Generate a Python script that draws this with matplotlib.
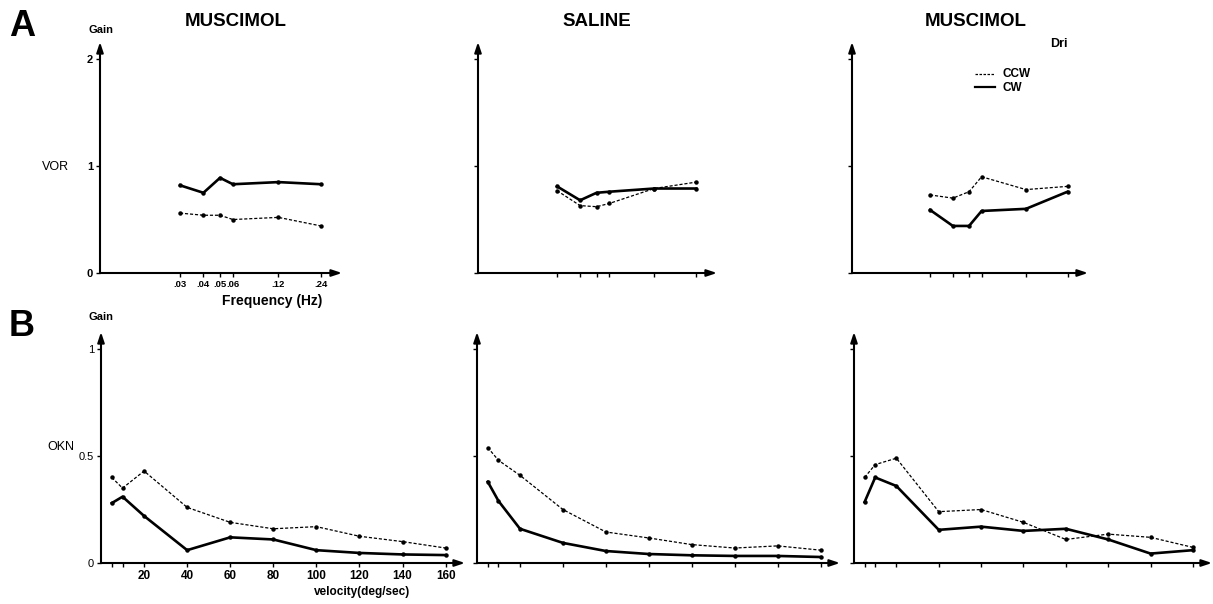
import matplotlib.pyplot as plt
import numpy as np

plt.rcParams['font.family'] = ['Liberation Sans', 'DejaVu Sans']

# --- data ---
freq = [0.03, 0.04, 0.05, 0.06, 0.12, 0.24]
freq_labels = ['.03', '.04', '.05', '.06', '.12', '.24']

vor_mus1_ccw = [0.56, 0.54, 0.54, 0.50, 0.52, 0.44]
vor_mus1_cw = [0.82, 0.75, 0.89, 0.83, 0.85, 0.83]
vor_sal_ccw = [0.77, 0.63, 0.62, 0.65, 0.79, 0.85]
vor_sal_cw = [0.81, 0.68, 0.75, 0.76, 0.79, 0.79]
vor_mus2_ccw = [0.73, 0.70, 0.76, 0.90, 0.78, 0.81]
vor_mus2_cw = [0.59, 0.44, 0.44, 0.58, 0.60, 0.76]

vel = [5, 10, 20, 40, 60, 80, 100, 120, 140, 160]
vel_labels = ['', '', '20', '40', '60', '80', '100', '120', '140', '160']

okn_mus1_ccw = [0.40, 0.35, 0.43, 0.26, 0.19, 0.16, 0.17, 0.125, 0.10, 0.07]
okn_mus1_cw = [0.28, 0.31, 0.22, 0.06, 0.12, 0.11, 0.06, 0.047, 0.04, 0.037]
okn_sal_ccw = [0.54, 0.48, 0.41, 0.25, 0.145, 0.117, 0.086, 0.07, 0.08, 0.06]
okn_sal_cw = [0.38, 0.29, 0.16, 0.094, 0.056, 0.042, 0.036, 0.033, 0.033, 0.028]
okn_mus2_ccw = [0.40, 0.46, 0.49, 0.24, 0.25, 0.19, 0.11, 0.135, 0.12, 0.073]
okn_mus2_cw = [0.285, 0.40, 0.36, 0.155, 0.17, 0.15, 0.16, 0.11, 0.044, 0.06]

titles = ['MUSCIMOL', 'SALINE', 'MUSCIMOL']

W, H = 1213, 604
fig = plt.figure(figsize=(W / 100, H / 100), dpi=100)


def px_axes(left, right, y0, top):
    # axes box given in pixel coordinates of the image
    return fig.add_axes([left / W, (H - y0) / H, (right - left) / W, (y0 - top) / H])


def style(ax):
    for s in ax.spines.values():
        s.set_visible(False)
    arrow = dict(arrowstyle='-|>,head_length=0.6,head_width=0.2', color='black', lw=1.5,
                 shrinkA=0, shrinkB=0)
    ax.annotate('', xy=(1, 0), xytext=(0, 0), xycoords='axes fraction', arrowprops=arrow)
    ax.annotate('', xy=(0, 1), xytext=(0, 0), xycoords='axes fraction', arrowprops=arrow)
    ax.tick_params(direction='out', length=3, width=1, pad=2)
    ax.patch.set_alpha(0)


def draw(ax, x, ccw, cw):
    ax.plot(x, ccw, color='black', lw=0.9, ls=(0, (2.5, 1.5)), marker='o', ms=2.2,
            clip_on=False)
    ax.plot(x, cw, color='black', lw=1.9, ls='-', marker='o', ms=2.2, clip_on=False)


# the hand-drawn frequency axis is close to a log scale with a small offset
def fwd(x):
    return np.log10(np.clip(np.asarray(x, dtype=float) - 0.01, 1e-6, None))


def inv(y):
    return 10 ** np.asarray(y, dtype=float) + 0.01


# --- row A: VOR ---
top_boxes = [(100, 342), (478, 717), (852, 1088)]
top_data = [(vor_mus1_ccw, vor_mus1_cw), (vor_sal_ccw, vor_sal_cw), (vor_mus2_ccw, vor_mus2_cw)]
title_x = [236, 597, 976]
for i, ((l, r), (ccw, cw)) in enumerate(zip(top_boxes, top_data)):
    ax = px_axes(l, r, 273, 42)
    style(ax)
    ax.set_xscale('function', functions=(fwd, inv))
    ax.set_xlim(0.015, 0.341)
    ax.set_ylim(0, 2.16)
    ax.set_xticks(freq)
    ax.xaxis.set_minor_locator(plt.NullLocator())
    ax.set_yticks([0, 1, 2])
    if i == 0:
        ax.set_xticklabels(freq_labels, fontsize=6.8, fontweight='bold')
        ax.set_yticklabels(['0', '1', '2'], fontsize=8, fontweight='bold')
    else:
        ax.set_xticklabels([])
        ax.set_yticklabels([])
    draw(ax, freq, ccw, cw)
    fig.text(title_x[i] / W, 1 - 21 / H, titles[i], ha='center', va='center',
             fontsize=13.5, fontweight='bold')

# legend drawn as in the original, inside the third panel
fig.text(1050 / W, 1 - 44 / H, 'Dri', ha='left', va='center', fontsize=9, fontweight='bold')
fig.add_artist(plt.Line2D([975 / W, 995 / W], [1 - 74 / H, 1 - 74 / H], color='black',
                          lw=0.9, ls=(0, (2, 1.2))))
fig.add_artist(plt.Line2D([975 / W, 995 / W], [1 - 87 / H, 1 - 87 / H], color='black', lw=1.6))
fig.text(1003 / W, 1 - 74 / H, 'CCW', ha='left', va='center', fontsize=8.5, fontweight='bold')
fig.text(1003 / W, 1 - 88 / H, 'CW', ha='left', va='center', fontsize=8.5, fontweight='bold')

fig.text(272 / W, 1 - 301 / H, 'Frequency (Hz)', ha='center', va='center', fontsize=10,
         fontweight='bold')
fig.text(55 / W, 1 - 167 / H, 'VOR', ha='center', va='center', fontsize=9)
fig.text(101 / W, 1 - 30 / H, 'Gain', ha='center', va='center', fontsize=8, fontweight='bold')
fig.text(22 / W, 1 - 26 / H, 'A', ha='center', va='center', fontsize=26, fontweight='bold')

# --- row B: OKN ---
bot_boxes = [(101, 465), (477, 840), (854, 1212)]
bot_data = [(okn_mus1_ccw, okn_mus1_cw), (okn_sal_ccw, okn_sal_cw), (okn_mus2_ccw, okn_mus2_cw)]
for i, ((l, r), (ccw, cw)) in enumerate(zip(bot_boxes, bot_data)):
    ax = px_axes(l, r, 563, 332)
    style(ax)
    ax.set_xlim(0, 169)
    ax.set_ylim(0, 1.08)
    ax.set_xticks(vel)
    ax.set_yticks([0, 0.5, 1])
    if i == 0:
        ax.set_xticklabels(vel_labels, fontsize=8.5, fontweight='bold')
        ax.set_yticklabels(['0', '0.5', '1'], fontsize=8)
    else:
        ax.set_xticklabels([])
        ax.set_yticklabels([])
    draw(ax, vel, ccw, cw)

fig.text(362 / W, 1 - 592 / H, 'velocity(deg/sec)', ha='center', va='center', fontsize=8.5,
         fontweight='bold')
fig.text(61 / W, 1 - 447 / H, 'OKN', ha='center', va='center', fontsize=9)
fig.text(101 / W, 1 - 317 / H, 'Gain', ha='center', va='center', fontsize=8, fontweight='bold')
fig.text(22 / W, 1 - 326 / H, 'B', ha='center', va='center', fontsize=26, fontweight='bold')

fig.savefig('out.png', dpi=100)
